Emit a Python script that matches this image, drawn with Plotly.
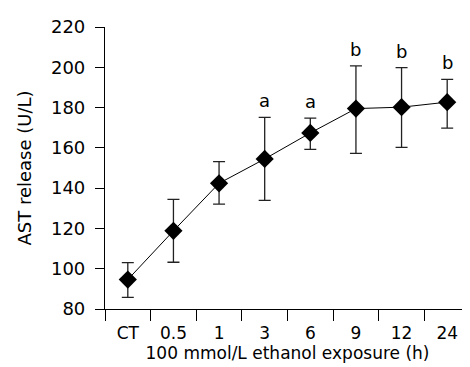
import plotly.graph_objects as go

categories = ["CT", "0.5", "1", "3", "6", "9", "12", "24"]
mean_vals = [94.6, 118.8, 142.4, 154.5, 167.4, 179.5, 180.2, 182.7]
upper_vals = [103.0, 134.4, 153.2, 175.1, 174.8, 200.7, 199.8, 194.0]
lower_vals = [85.8, 103.2, 132.1, 133.9, 159.2, 157.3, 160.2, 169.8]
sig_labels = ["", "", "", "a", "a", "b", "b", "b"]

err_plus = [u - m for u, m in zip(upper_vals, mean_vals)]
err_minus = [m - l for m, l in zip(mean_vals, lower_vals)]

FONT = "DejaVu Sans"

fig = go.Figure()
fig.add_trace(go.Scatter(
    x=categories, y=mean_vals, mode="lines+markers",
    line=dict(color="black", width=1),
    marker=dict(symbol="diamond", size=14, color="black"),
    error_y=dict(type="data", symmetric=False, array=err_plus, arrayminus=err_minus,
                 color="#222222", thickness=1.3, width=6),
    showlegend=False,
))

for i, (u, s) in enumerate(zip(upper_vals, sig_labels)):
    if s:
        fig.add_annotation(x=i, y=u, text=s, showarrow=False, yanchor="bottom",
                           yshift=4, font=dict(family=FONT, size=18, color="black"))

fig.update_layout(
    width=470, height=367,
    margin=dict(l=97, r=8, t=11, b=66),
    paper_bgcolor="white", plot_bgcolor="white",
    font=dict(family=FONT, color="black"),
)
fig.update_xaxes(
    type="category", range=[-0.5, 7.5], tickson="boundaries",
    showline=True, linecolor="black", linewidth=1.2,
    ticks="outside", ticklen=11, tickcolor="black", tickwidth=1.2,
    showgrid=False, zeroline=False, ticklabelstandoff=8,
    tickfont=dict(family=FONT, size=17),
    title=dict(text="100 mmol/L ethanol exposure (h)", font=dict(family=FONT, size=17), standoff=5),
)
fig.update_yaxes(
    range=[80, 220], dtick=20,
    showline=True, linecolor="black", linewidth=1.2,
    ticks="outside", ticklen=9, tickcolor="black", tickwidth=1.2,
    showgrid=False, zeroline=False, ticklabelstandoff=6,
    tickfont=dict(family=FONT, size=18),
    title=dict(text="AST release (U/L)", font=dict(family=FONT, size=18), standoff=14),
)

fig.write_html("out.html")
